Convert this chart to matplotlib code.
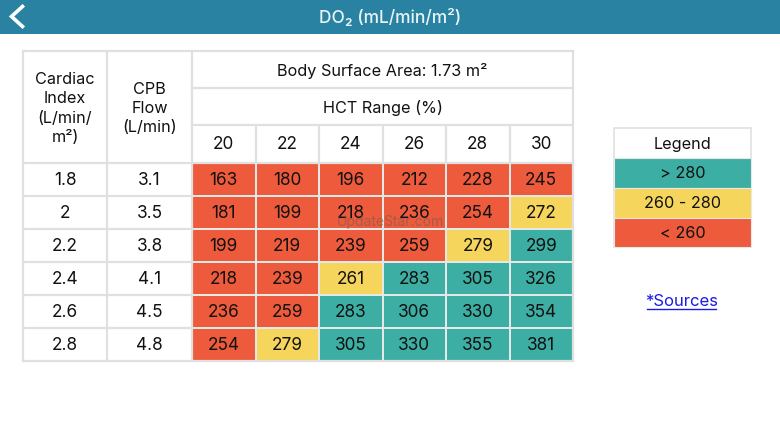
# DO2 table screen
import matplotlib
matplotlib.use('Agg')
import matplotlib.pyplot as plt
from matplotlib.colors import ListedColormap, BoundaryNorm
from matplotlib.patches import Rectangle
import numpy as np

plt.rcParams['font.family'] = ['Inter', 'DejaVu Sans']

title = 'DO₂ (mL/min/m²)'
cardiac_index = ['1.8', '2', '2.2', '2.4', '2.6', '2.8']
cpb_flow = ['3.1', '3.5', '3.8', '4.1', '4.5', '4.8']
hct = ['20', '22', '24', '26', '28', '30']
do2 = [[163, 180, 196, 212, 228, 245],
       [181, 199, 218, 236, 254, 272],
       [199, 219, 239, 259, 279, 299],
       [218, 239, 261, 283, 305, 326],
       [236, 259, 283, 306, 330, 354],
       [254, 279, 305, 330, 355, 381]]
legend_labels = ['> 280', '260 - 280', '< 260']

RED = '#ee5a3c'
YELLOW = '#f6d55c'
TEAL = '#3caea3'
LINE = '#e0e0e0'
BAR = '#2a82a2'
FS = 12.4
HS = 11.7

fig = plt.figure(figsize=(7.8, 4.39), dpi=100)
ax = fig.add_axes([0, 0, 1, 1])
ax.set_xlim(0, 780)
ax.set_ylim(438, -1)
ax.axis('off')

# top bar
ax.add_patch(Rectangle((0, -1), 780, 35, fc=BAR, ec='none'))
ax.text(390, 17, title, color='#e8f4f6', fontsize=12.5, fontweight='medium', ha='center', va='center')
ax.plot([22.5, 11.5, 22.5], [6.5, 16.5, 26.5], color='white', lw=2.6, solid_joinstyle='miter')

# table grid
xe = np.linspace(192, 573, 7)
ye = np.linspace(163, 361, 7)
cmap = ListedColormap([RED, YELLOW, TEAL])
norm = BoundaryNorm([0, 260, 281, 1000], 3)
ax.pcolormesh(xe, ye, np.array(do2), cmap=cmap, norm=norm, edgecolors='#e4e8e6', linewidth=1.4)

ln = dict(color=LINE, lw=1.6, solid_capstyle='projecting')
for y in [51, 163, 196, 229, 262, 295, 328, 361]:
    ax.plot([23, 192] if 163 < y < 361 else [23, 573], [y, y], **ln)
for y in [88, 125]:
    ax.plot([192, 573], [y, y], **ln)
for x in [23, 107, 192, 573]:
    ax.plot([x, x], [51, 361], **ln)
for x in xe[1:-1]:
    ax.plot([x, x], [125, 163], **ln)

txt = dict(color='#111111', fontsize=FS, ha='center', va='center')
head = dict(txt, fontsize=HS)
ax.text(65, 107.5, 'Cardiac\nIndex\n(L/min/\nm²)', linespacing=1.36, **head)
ax.text(149.5, 107.5, 'CPB\nFlow\n(L/min)', linespacing=1.36, **head)
ax.text(382.5, 70, 'Body Surface Area: 1.73 m²', **head)
ax.text(382.5, 107, 'HCT Range (%)', **head)

xc = (xe[:-1] + xe[1:]) / 2
yc = (ye[:-1] + ye[1:]) / 2
for i, h in enumerate(hct):
    ax.text(xc[i], 144, h, **txt)
for r in range(6):
    ax.text(65, yc[r], cardiac_index[r], **txt)
    ax.text(149.5, yc[r], cpb_flow[r], **txt)
    for c in range(6):
        ax.text(xc[c], yc[r], str(do2[r][c]), **txt)

# watermark
ax.text(390, 221, 'UpdateStar.com', color='#7a5a50', alpha=0.6, fontsize=10,
        ha='center', va='center', zorder=10)

# legend
ax.add_patch(Rectangle((614, 128), 137, 119, fc='white', ec=LINE, lw=1.2))
ax.text(682.5, 144, 'Legend', **head)
leg_y = [158, 187.5, 217.5, 247]
for i, col in enumerate([TEAL, YELLOW, RED]):
    ax.add_patch(Rectangle((614, leg_y[i]), 137, leg_y[i + 1] - leg_y[i], fc=col, ec='#e8e8e8', lw=0.8))
    ax.text(682.5, (leg_y[i] + leg_y[i + 1]) / 2, legend_labels[i], **head)

# link
ax.text(682, 301, '*Sources', color='#1a1ae6', fontsize=12, ha='center', va='center')
ax.plot([647, 716], [309, 309], color='#1a1ae6', lw=1)

fig.savefig('out.png', dpi=100)
